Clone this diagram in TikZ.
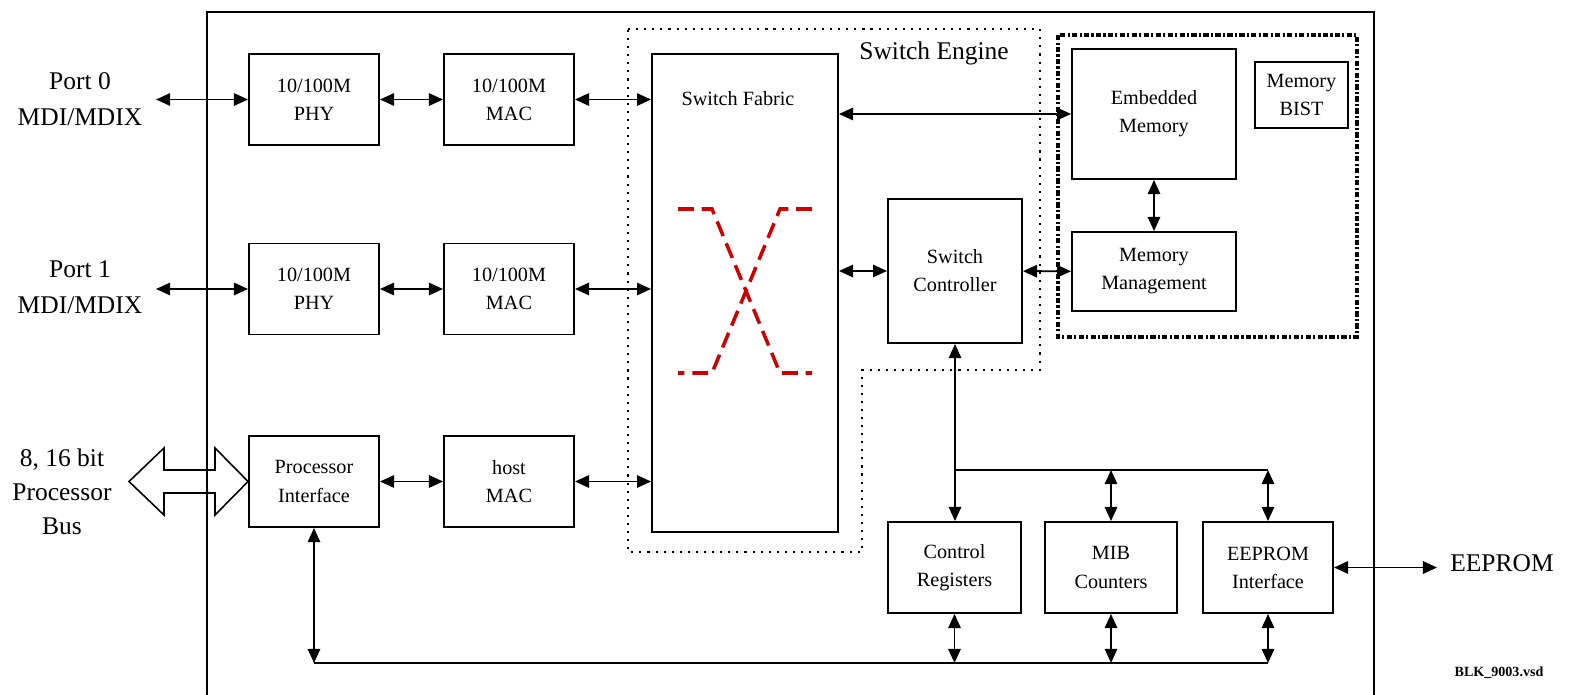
\documentclass[tikz,border=0pt]{standalone}
\usepackage{fontspec}
\setmainfont{Liberation Serif}
\usetikzlibrary{arrows.meta,calc}

\begin{document}
\begin{tikzpicture}[
		x=0.02cm, y=-0.02cm,
		blk/.style={draw, line width=1.1pt, minimum width=2.6cm, minimum height=1.82cm,
			align=center, inner sep=1pt, font=\fontsize{11.5}{16}\selectfont},
		lbl/.style={align=center, font=\fontsize{14.5}{20.5}\selectfont},
		wire/.style={line width=1.1pt},
		link/.style={wire, {Triangle[length=8pt,width=7pt]}-{Triangle[length=8pt,width=7pt]}},
		engine/.style={line width=1.2pt, dash pattern=on 1.2pt off 3.4pt},
		memarea/.style={line width=2pt, dash pattern=on 3pt off 1.3pt on 1.2pt off 1.3pt},
		xpath/.style={draw=red!80!black, line width=2pt, dash pattern=on 9pt off 4.5pt}]

		\useasboundingbox (0,0) rectangle (1577,695);

		% chip outline and grouped areas
		\draw[wire] (207,705) |- (1374,12) -- (1374,705);
		\draw[engine] (628,29) -- (1040,29) -- (1040,370) -- (862,370) -- (862,552) -- (628,552) -- cycle;
		\draw[memarea] (1058,35) rectangle (1357,337);

		\node[blk] (phyA) at (314,99.5) {10/100M\\PHY};
		\node[blk] (macA) at (509,99.5) {10/100M\\MAC};
		\node[blk] (phyB) at (314,289)  {10/100M\\PHY};
		\node[blk] (macB) at (509,289)  {10/100M\\MAC};
		\node[blk] (cpuif) at (314,481.5)   {Processor\\Interface};
		\node[blk] (hostmac) at (509,481.5) {host\\MAC};

		\node[blk, minimum width=3.72cm, minimum height=9.56cm] (fabric) at (745,293) {};
		\node[font=\fontsize{11.5}{16}\selectfont] (fabtxt) at (738,99) {Switch Fabric};
		\node[lbl] (engtxt) at (934,53) {Switch Engine};

		\node[blk, minimum width=2.68cm, minimum height=2.88cm] (swctl) at (955,271) {Switch\\Controller};
		\node[blk, minimum width=3.28cm, minimum height=2.6cm]  (emem)  at (1154,114)  {Embedded\\Memory};
		\node[blk, minimum width=3.28cm, minimum height=1.58cm] (mmgmt) at (1154,271.5) {Memory\\Management};
		\node[blk, minimum width=1.86cm, minimum height=1.32cm] (bist)  at (1301.5,95) {Memory\\BIST};

		\node[blk, minimum width=2.66cm] (ctlreg) at (954.5,567.5) {Control\\Registers};
		\node[blk, minimum width=2.64cm] (mib)    at (1111,567.5)  {MIB\\Counters};
		\node[blk]                       (eeif)   at (1268,567.5)  {EEPROM\\Interface};

		\node[lbl] (port0) at (80,99)  {Port 0\\MDI/MDIX};
		\node[lbl] (port1) at (80,287) {Port 1\\MDI/MDIX};
		\node[lbl, font=\fontsize{14.5}{19.5}\selectfont] (cpubus) at (62,492) {8, 16 bit\\Processor\\Bus};
		\node[lbl] (eeprom) at (1502,563) {EEPROM};
		\node[font=\fontsize{8}{8}\selectfont\bfseries] (fname) at (1499,673) {BLK\_9003.vsd};

		\coordinate (p0end) at (156,99.5);
		\coordinate (p1end) at (156,289);
		\coordinate (eeend) at (1437,567.5);
		\coordinate (ctlbus) at (955,470);
		\coordinate (lowbus) at (314,663);

		% crossbar in the fabric
		\draw[xpath] (678,209) -- (712,209) -- (780,373) -- (812,373);
		\draw[xpath] (812,209) -- (780,209) -- (712,373) -- (678,373);

		% processor bus
		\draw[line width=0.9pt] (129,481.5) -- (164,448) -- (164,470) -- (215,470) -- (215,448)
			-- (cpuif.west) -- (215,515) -- (215,493) -- (164,493) -- (164,515) -- cycle;

		\draw[link] (p0end) -- (phyA);
		\draw[link] (phyA) -- (macA);
		\draw[link] (macA) -- (macA -| fabric.west);
		\draw[link] (p1end) -- (phyB);
		\draw[link] (phyB) -- (macB);
		\draw[link] (macB) -- (macB -| fabric.west);
		\draw[link] (cpuif) -- (hostmac);
		\draw[link] (hostmac) -- (hostmac -| fabric.west);

		\draw[link] (emem.west -| fabric.east) -- (emem);
		\draw[link] (swctl.west -| fabric.east) -- (swctl);
		\draw[link] (swctl) -- (mmgmt);
		\draw[link] (emem) -- (mmgmt);

		\draw[link] (swctl.south) -- (swctl.south |- ctlreg.north);
		\draw[wire] (ctlbus) -- (ctlbus -| eeif.north);
		\draw[link] (ctlbus -| mib.north) -- (mib);
		\draw[link] (ctlbus -| eeif.north) -- (eeif);

		\draw[link] (cpuif.south) -- (lowbus);
		\draw[wire] (lowbus) -- (lowbus -| eeif.south);
		\draw[link] (ctlreg.south) -- (ctlreg.south |- lowbus);
		\draw[link] (mib.south) -- (mib.south |- lowbus);
		\draw[link] (eeif.south) -- (eeif.south |- lowbus);
		\draw[link] (eeif) -- (eeend);

\end{tikzpicture}
\end{document}
